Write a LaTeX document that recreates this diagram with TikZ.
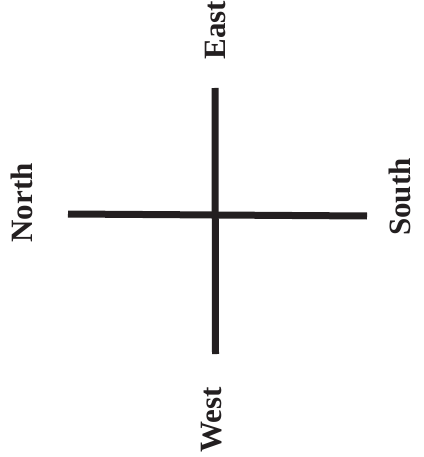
\documentclass[tikz,border=0pt]{standalone}
\usepackage{fontspec}
\setmainfont{Liberation Serif}
\definecolor{ink}{HTML}{231F20}
\begin{document}
\begin{tikzpicture}[x=1pt,y=-1pt,
  lbl/.style={rotate=90,text=ink,font=\fontsize{31}{31}\selectfont\bfseries,inner sep=0pt,anchor=center},
  bar/.style={draw=ink,line width=7pt}]
\useasboundingbox (0,0) rectangle (423,457);
\coordinate (top) at (215,88);
\coordinate (bot) at (215.5,354);
\coordinate (lft) at (68,214);
\coordinate (rgt) at (367,216);
\draw[bar] (top) -- (bot);
\draw[bar] (lft) -- (rgt);
\node[lbl] (east) at (215,30) {East};
\node[lbl] (north) at (22,203) {North};
\node[lbl] (south) at (400,197) {South};
\node[lbl] (west) at (212,420) {West};
\end{tikzpicture}
\end{document}
